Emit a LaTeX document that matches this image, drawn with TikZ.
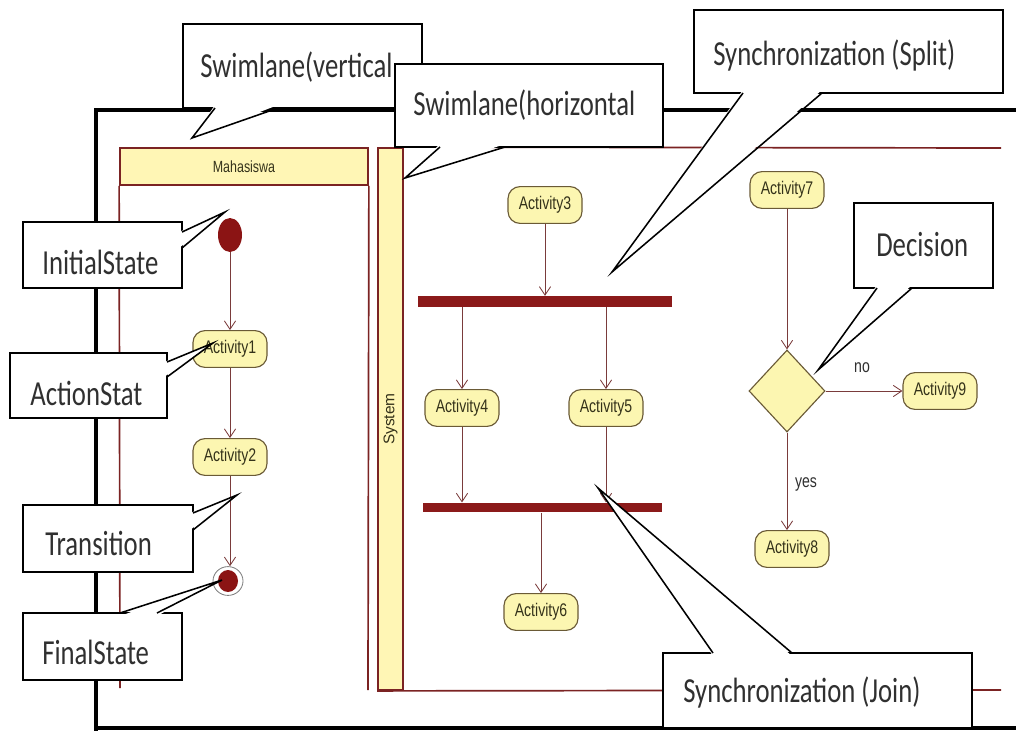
\documentclass[tikz,border=0pt]{standalone}
\usepackage{fontspec}
\setmainfont{Liberation Sans}
\newfontfamily\callfont[FakeStretch=0.76]{Carlito}
\newfontfamily\actfont[FakeStretch=0.77]{Liberation Sans}
\usetikzlibrary{shapes.geometric,arrows.meta,calc}
\definecolor{laneyellow}{HTML}{FFF6B5}
\definecolor{actfill}{HTML}{FCF6B1}
\definecolor{actborder}{HTML}{6A5A36}
\definecolor{acttext}{HTML}{34321A}
\definecolor{barred}{HTML}{8B1A1A}
\definecolor{lanered}{HTML}{7B2323}
\definecolor{arrred}{HTML}{7A3B3B}
\definecolor{initred}{HTML}{8B1414}
\definecolor{textgray}{HTML}{303030}
\tikzset{
  act/.style={draw=actborder, fill=actfill, rounded corners=0.3cm, minimum width=1.85cm, minimum height=0.92cm, inner sep=0, font=\actfont\fontsize{13}{15}\selectfont, text=acttext, line width=0.8pt},
  bar/.style={fill=barred, draw=none, inner sep=0},
  arr/.style={draw=arrred, line width=0.6pt, -{Straight Barb[length=6pt,width=8pt]}},
  calloutbox/.style={draw=black, fill=white, line width=1.1pt, inner sep=0},
  callouttext/.style={anchor=west, inner sep=0, text=textgray, font=\callfont\fontsize{25}{28}\selectfont},
  wedgeline/.style={draw=black, line width=1.1pt, line join=miter},
  lane/.style={draw=lanered, line width=1.2pt},
  frame/.style={draw=black, line width=2.6pt},
  smalllabel/.style={inner sep=0, text=textgray, font=\actfont\fontsize{13}{15}\selectfont}
}
\begin{document}
\begin{tikzpicture}[x=0.025cm,y=-0.025cm]
\useasboundingbox (0,0) rectangle (1016,731);
\fill[white] (0,0) rectangle (1016,731);
% outer frame
\draw[frame] (1016,110) -- (96,110) -- (96,731);
\draw[frame] (96,728) -- (1016,728);
% Mahasiswa lane
\node[draw=lanered, fill=laneyellow, line width=1.2pt, minimum width=6.2cm, minimum height=0.925cm, inner sep=0, font=\actfont\fontsize{11.5}{13}\selectfont, text=acttext] (mh) at (244,166.5) {Mahasiswa};
\draw[lane] (mh.south west) -- (120,688);
\draw[lane] (mh.south east) -- (368,690);
% System lane
\node[draw=lanered, fill=laneyellow, line width=1.2pt, minimum width=0.625cm, minimum height=13.55cm, inner sep=0] (sys) at (390.5,419) {};
\node[rotate=90, inner sep=0, font=\fontsize{11}{13}\selectfont, text=acttext] (syst) at (sys.center) {System};
\draw[lane] (sys.north east) -- (1001,148);
\draw[lane] (sys.south west) -- (1001,690);
% Mahasiswa flow
\node[ellipse, fill=initred, draw=none, minimum width=0.6cm, minimum height=0.85cm, inner sep=0] (init) at (230,235) {};
\node[act] (a1) at (230,349) {Activity1};
\node[act] (a2) at (230,457) {Activity2};
\node[ellipse, draw=gray, fill=white, line width=0.6pt, minimum width=0.75cm, minimum height=0.72cm, inner sep=0] (fin) at (228,581) {};
\node[ellipse, fill=initred, draw=none, minimum width=0.5cm, minimum height=0.55cm, inner sep=0] (fini) at (fin.center) {};
\draw[arr] (init.south) -- (a1.north);
\draw[arr] (a1.south) -- (a2.north);
\draw[arr] (a2.south) -- (a2.south |- fin.north);
% System flow
\node[act] (a3) at (545,205) {Activity3};
\node[bar, minimum width=6.35cm, minimum height=0.27cm] (split) at (545,301.5) {};
\node[act] (a4) at (462,408) {Activity4};
\node[act] (a5) at (606,408) {Activity5};
\node[bar, minimum width=5.975cm, minimum height=0.24cm] (join) at (542.5,507.5) {};
\node[act] (a6) at (541,612) {Activity6};
\draw[arr] (a3.south) -- (a3.south |- split.north);
\draw[arr] (split.south -| a4.north) -- (a4.north);
\draw[arr] (split.south -| a5.north) -- (a5.north);
\draw[arr] (a4.south) -- (a4.south |- join.north);
\draw[arr] (a5.south) -- (a5.south |- join.north);
\draw[arr] (join.south -| a6.north) -- (a6.north);
\node[act] (a7) at (787,190) {Activity7};
\node[diamond, draw=actborder, fill=actfill, line width=0.8pt, minimum width=1.9cm, minimum height=2.05cm, inner sep=0] (dec) at (787,391) {};
\node[act] (a9) at (940,391) {Activity9};
\node[act] (a8) at (792,549) {Activity8};
\draw[arr] (a7.south) -- (dec.north);
\draw[arr] (dec.east) -- (a9.west);
\draw[arr] (dec.south) -- (dec.south |- a8.north);
\node[smalllabel] (nolab) at (862,368) {no};
\node[smalllabel] (yeslab) at (806,484) {yes};
% callouts
% Swimlane(vertical
\node[calloutbox, minimum width=5.975cm, minimum height=2.1cm] (cv) at (302.5,66) {};
\fill[white] (215,105) -- (192,138) -- (278,105) -- cycle;
\draw[wedgeline] (215,108) -- (192,138) -- (278,108);
\node[callouttext] (cvt) at (200,67) {Swimlane(vertical};
% Swimlane(horizontal
\node[calloutbox, minimum width=6.7cm, minimum height=2.075cm] (ch) at (529,105.5) {};
\fill[white] (440,144) -- (405,178) -- (505,144) -- cycle;
\draw[wedgeline] (440,147) -- (405,178) -- (505,147);
\node[callouttext] (cht) at (413,105) {Swimlane(horizontal};
% Synchronization (Split)
\node[calloutbox, minimum width=7.725cm, minimum height=2.075cm] (cs) at (848.5,51.5) {};
\fill[white] (743,90) -- (612,272) -- (822,90) -- cycle;
\draw[wedgeline] (743,93) -- (612,272) -- (822,93);
\node[callouttext] (cst) at (713,55) {Synchronization (Split)};
% InitialState
\node[calloutbox, minimum width=3.975cm, minimum height=1.65cm] (ci) at (102.5,255) {};
\fill[white] (179,232) -- (225,212) -- (179,248) -- cycle;
\draw[wedgeline] (182,232) -- (225,212) -- (182,248);
\node[callouttext] (cit) at (42,262) {InitialState};
% ActionStat
\node[calloutbox, minimum width=3.925cm, minimum height=1.625cm] (ca) at (88.5,385.5) {};
\fill[white] (164,362) -- (213,343) -- (164,377) -- cycle;
\draw[wedgeline] (167,362) -- (213,343) -- (167,377);
\node[callouttext] (cat) at (30,393) {ActionStat};
% Transition
\node[calloutbox, minimum width=4.25cm, minimum height=1.675cm] (ct) at (108,538.5) {};
\fill[white] (190,513) -- (237,495) -- (190,530) -- cycle;
\draw[wedgeline] (193,513) -- (237,495) -- (193,530);
\node[callouttext] (ctt) at (45,543) {Transition};
% FinalState
\node[calloutbox, minimum width=3.975cm, minimum height=1.675cm] (cf) at (102.5,646.5) {};
\fill[white] (120,616) -- (222,580) -- (157,616) -- cycle;
\draw[wedgeline] (120,613) -- (222,580) -- (157,613);
\node[callouttext] (cft) at (42,652) {FinalState};
% Decision
\node[calloutbox, minimum width=3.475cm, minimum height=2.125cm] (cd) at (923.5,245.5) {};
\fill[white] (877,285) -- (818,370) -- (912,285) -- cycle;
\draw[wedgeline] (877,288) -- (818,370) -- (912,288);
\node[callouttext] (cdt) at (876,245) {Decision};
% Synchronization (Join)
\node[calloutbox, minimum width=7.725cm, minimum height=1.875cm] (cj) at (817.5,690.5) {};
\fill[white] (713,656) -- (598,488) -- (792,656) -- cycle;
\draw[wedgeline] (713,653) -- (598,488) -- (792,653);
\node[callouttext] (cjt) at (683,692) {Synchronization (Join)};
\end{tikzpicture}
\end{document}
